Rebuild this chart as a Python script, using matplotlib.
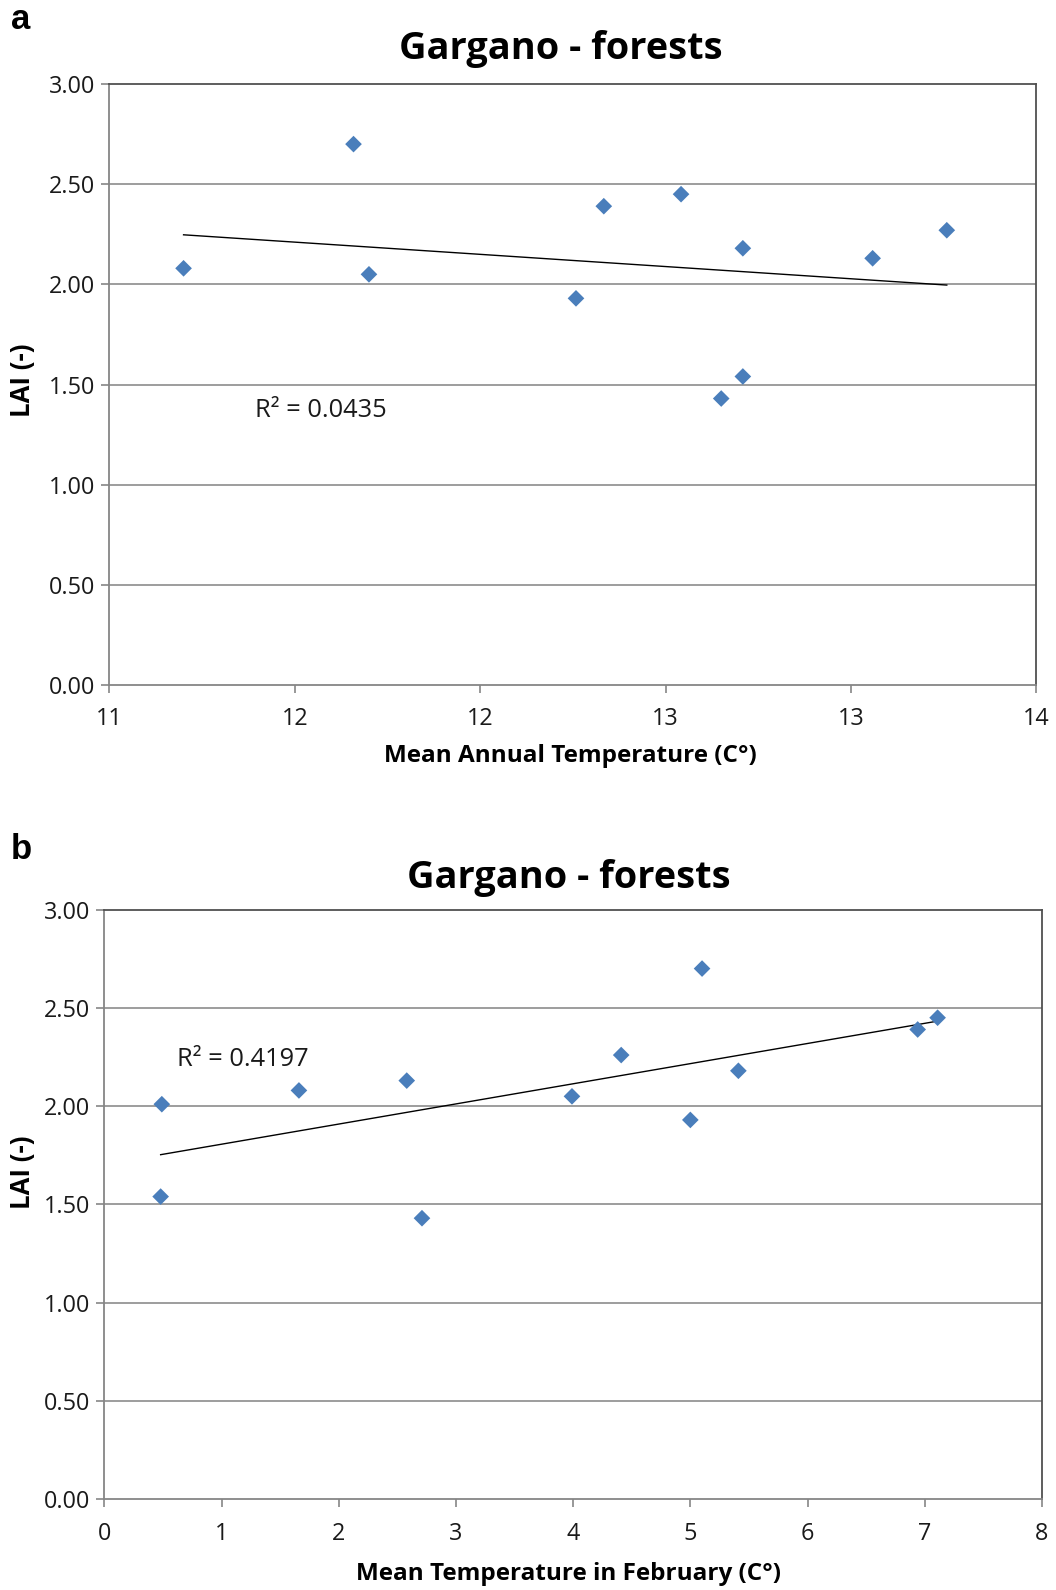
import numpy as np
import matplotlib
matplotlib.use("Agg")
import matplotlib.pyplot as plt

plt.rcParams["font.family"] = ["Open Sans", "DejaVu Sans"]

# panel a: LAI vs mean annual temperature
annual_temp = [11.24, 11.79, 11.84, 12.51, 12.60, 12.85, 13.05, 13.47, 13.71, 13.05, 12.98]
lai_a = [2.08, 2.70, 2.05, 1.93, 2.39, 2.45, 2.18, 2.13, 2.27, 1.54, 1.43]
r2_a = "R² = 0.0435"
xticks_a = [11, 11.6, 12.2, 12.8, 13.4, 14]
xticklabels_a = ["11", "12", "12", "13", "13", "14"]

# panel b: LAI vs mean temperature in February
feb_temp = [0.49, 0.48, 1.66, 2.58, 2.71, 3.99, 4.41, 5.00, 5.10, 5.41, 6.94, 7.11]
lai_b = [2.01, 1.54, 2.08, 2.13, 1.43, 2.05, 2.26, 1.93, 2.70, 2.18, 2.39, 2.45]
r2_b = "R² = 0.4197"
xticks_b = [0, 1, 2, 3, 4, 5, 6, 7, 8]
xticklabels_b = ["0", "1", "2", "3", "4", "5", "6", "7", "8"]

yticks = [0.0, 0.5, 1.0, 1.5, 2.0, 2.5, 3.0]
yticklabels = ["0.00", "0.50", "1.00", "1.50", "2.00", "2.50", "3.00"]

title = "Gargano - forests"
ylab = "LAI (-)"
xlab_a = "Mean Annual Temperature (C°)"
xlab_b = "Mean Temperature in February (C°)"

W, H = 1056, 1590
fig = plt.figure(figsize=(W / 100, H / 100), dpi=100)

blue = "#4a7ebb"
grid_c = "#8c8c8c"
axis_c = "#868686"
frame_c = "#505050"


def px(x, y):
    # pixel position (from top-left) -> figure fraction
    return x / W, 1 - y / H


def panel(rect, x, y, xticks, xticklabels, xlim, r2, r2_pos):
    ax = fig.add_axes(rect)
    ax.set_xlim(*xlim)
    ax.set_ylim(0, 3)
    for v in yticks[1:-1]:
        ax.axhline(v, color=grid_c, lw=1.2, zorder=1)
    ax.scatter(x, y, marker="D", s=72, color=blue, edgecolors="none", zorder=3)

    # linear trend line over the data range
    k, b = np.polyfit(x, y, 1)
    xs = np.array([min(x), max(x)])
    ax.plot(xs, k * xs + b, color="black", lw=1.0, zorder=2)

    ax.text(r2_pos[0], r2_pos[1], r2, fontsize=18.3, ha="left", va="baseline", color="#1a1a1a")

    ax.set_xticks(xticks)
    ax.set_xticklabels(xticklabels)
    ax.set_yticks(yticks)
    ax.set_yticklabels(yticklabels)
    ax.tick_params(direction="out", length=6, width=1.2, color=axis_c,
                   labelsize=16.8, labelcolor="#1a1a1a")
    ax.tick_params(axis="x", pad=10)
    ax.tick_params(axis="y", pad=4)
    ax.spines["left"].set_color(axis_c)
    ax.spines["bottom"].set_color(axis_c)
    ax.spines["left"].set_linewidth(1.3)
    ax.spines["bottom"].set_linewidth(1.3)
    for s in ("top", "right"):
        ax.spines[s].set_color(frame_c)
        ax.spines[s].set_linewidth(1.3)
    return ax


panel([109.4 / W, 1 - 685 / H, 927 / W, 601 / H], annual_temp, lai_a,
      xticks_a, xticklabels_a, (11, 14), r2_a, (11.47, 1.336))
panel([104.4 / W, 1 - 1499.3 / H, 937.5 / W, 589.7 / H], feb_temp, lai_b,
      xticks_b, xticklabels_b, (0, 8), r2_b, (0.62, 2.206))

# titles, axis labels, panel letters
fig.text(*px(561, 59), title, fontsize=27.3, fontweight="bold", ha="center", va="baseline")
fig.text(*px(569, 888), title, fontsize=27.3, fontweight="bold", ha="center", va="baseline")
fig.text(*px(570, 762), xlab_a, fontsize=17.5, fontweight="bold", ha="center", va="baseline")
fig.text(*px(568, 1580), xlab_b, fontsize=17.5, fontweight="bold", ha="center", va="baseline")
fig.text(*px(22.5, 380), ylab, fontsize=18.5, fontweight="bold", rotation=90, ha="center", va="center")
fig.text(*px(22.7, 1172), ylab, fontsize=18.5, fontweight="bold", rotation=90, ha="center", va="center")
fig.text(*px(11, 29), "a", fontsize=25, fontweight="bold", family="Liberation Sans",
         ha="left", va="baseline")
fig.text(*px(11, 859), "b", fontsize=25, fontweight="bold", family="Liberation Sans",
         ha="left", va="baseline")

fig.savefig("out.png", dpi=100, facecolor="white")
